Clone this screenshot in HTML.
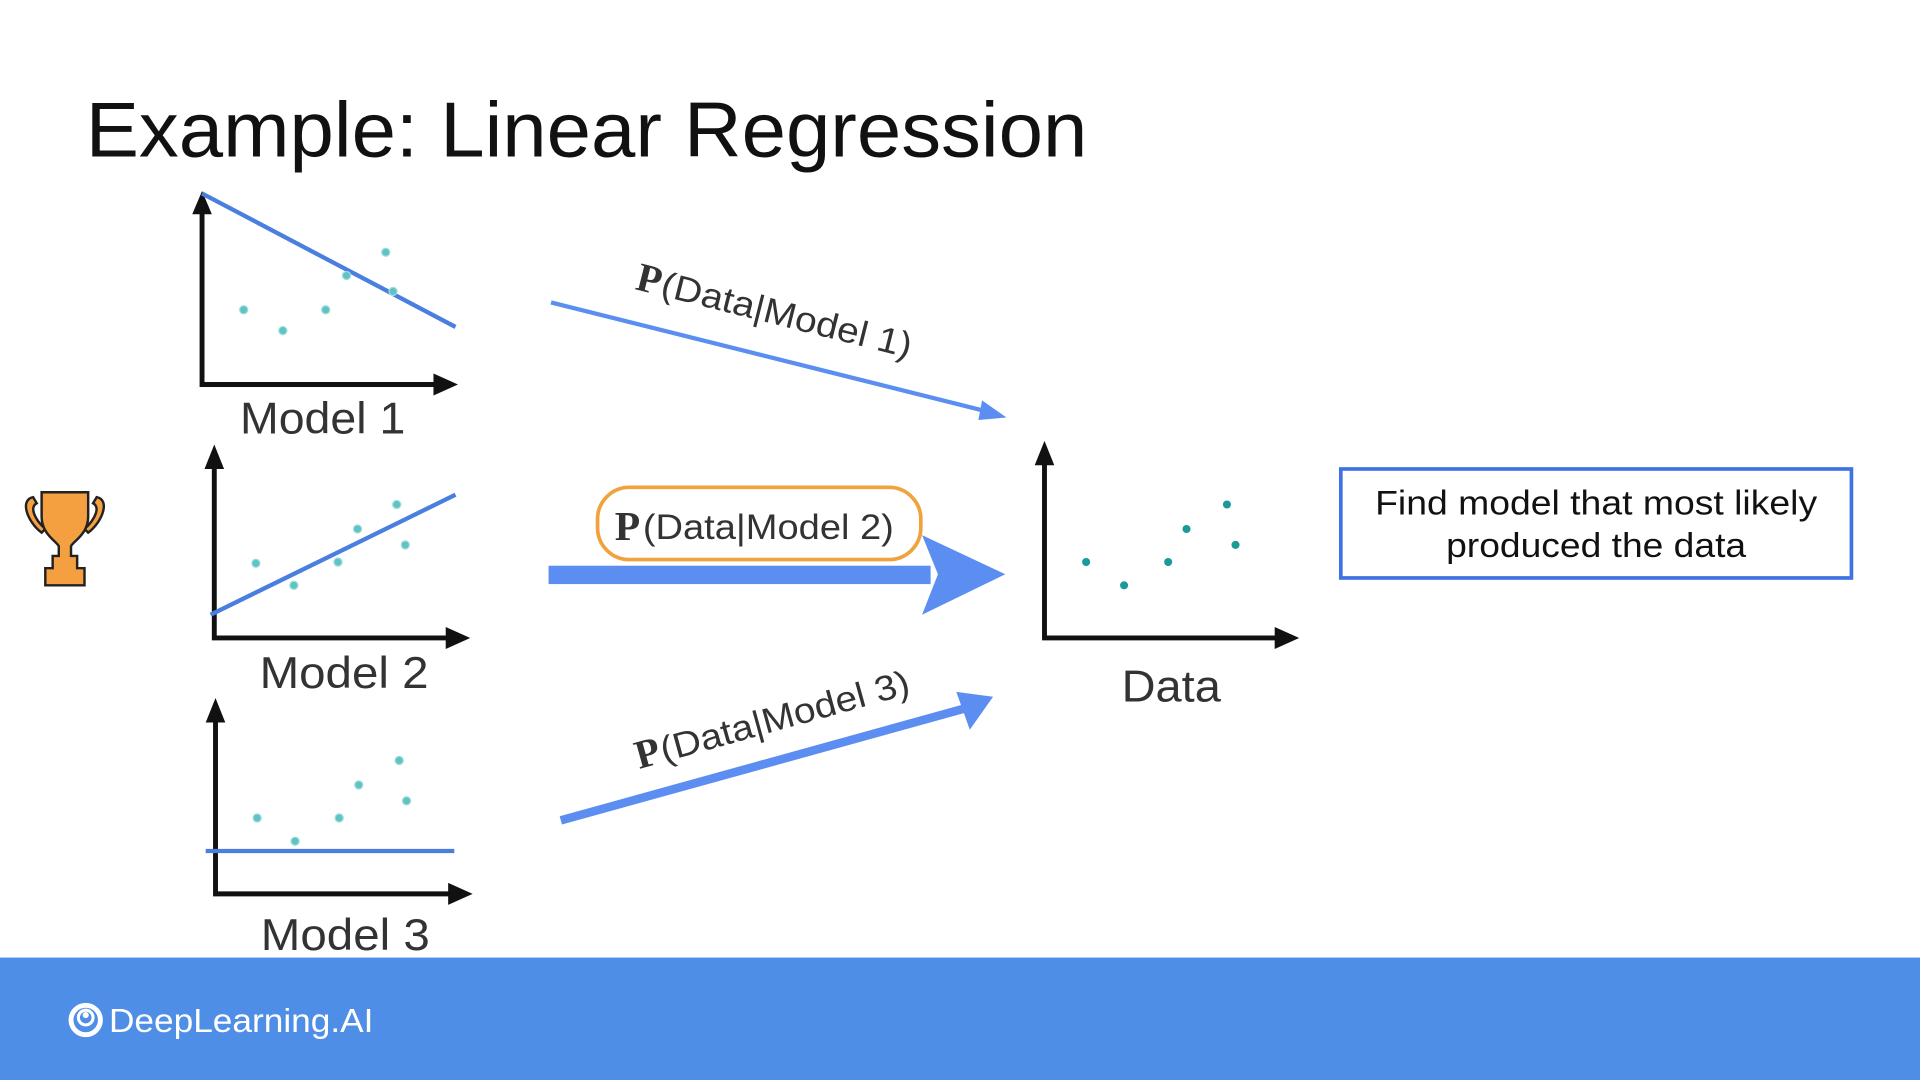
<!DOCTYPE html>
<html><head><style>html,body{margin:0;padding:0;background:#fff;width:1920px;height:1080px;overflow:hidden}</style></head>
<body>
<svg width="1920" height="1080" viewBox="0 0 1568 882" xmlns="http://www.w3.org/2000/svg" font-family="Liberation Sans, sans-serif">
<rect width="1568" height="882" fill="#fff"/>
<text x="70" y="128" font-size="64" fill="#111" textLength="818" lengthAdjust="spacingAndGlyphs">Example: Linear Regression</text>

<g stroke="#111" stroke-width="4" fill="none">
<path d="M165,172 V314 H358"/>
<path d="M175,380 V521 H368"/>
<path d="M176,587 V730 H370"/>
<path d="M853,377 V521 H1045"/>
</g>
<g fill="#111">
<path d="M157,175 L165,156 L173,175Z"/><path d="M354,305 L374,314 L354,323Z"/>
<path d="M167,383 L175,363 L183,383Z"/><path d="M364,512 L384,521 L364,530Z"/>
<path d="M168,590 L176,570 L184,590Z"/><path d="M366,721 L386,730 L366,739Z"/>
<path d="M845,380 L853,360 L861,380Z"/><path d="M1041,512 L1061,521 L1041,530Z"/>
</g>
<g stroke="#4a7fe0" stroke-width="3.5">
<line x1="165" y1="158" x2="372" y2="267"/>
<line x1="172" y1="502" x2="372" y2="404"/>
<line x1="168" y1="695" x2="371" y2="695"/>
</g>
<g fill="#5fc3c3" stroke="#9fdcdc" stroke-width="1">
<circle cx="199" cy="253" r="3.3"/><circle cx="231" cy="270" r="3.3"/><circle cx="266" cy="253" r="3.3"/><circle cx="283" cy="225" r="3.3"/><circle cx="315" cy="206" r="3.3"/><circle cx="321" cy="238" r="3.3"/>
<circle cx="209" cy="460" r="3.3"/><circle cx="240" cy="478" r="3.3"/><circle cx="276" cy="459" r="3.3"/><circle cx="292" cy="432" r="3.3"/><circle cx="324" cy="412" r="3.3"/><circle cx="331" cy="445" r="3.3"/>
<circle cx="210" cy="668" r="3.3"/><circle cx="241" cy="687" r="3.3"/><circle cx="277" cy="668" r="3.3"/><circle cx="293" cy="641" r="3.3"/><circle cx="326" cy="621" r="3.3"/><circle cx="332" cy="654" r="3.3"/>
</g>
<g fill="#1a9a9a">
<circle cx="887" cy="459" r="3.3"/><circle cx="918" cy="478" r="3.3"/><circle cx="954" cy="459" r="3.3"/><circle cx="969" cy="432" r="3.3"/><circle cx="1002" cy="412" r="3.3"/><circle cx="1009" cy="445" r="3.3"/>
</g>
<g font-size="36" fill="#333" lengthAdjust="spacingAndGlyphs">
<text x="196" y="354" textLength="135" lengthAdjust="spacingAndGlyphs">Model 1</text>
<text x="212" y="562" textLength="138" lengthAdjust="spacingAndGlyphs">Model 2</text>
<text x="213" y="776" textLength="138" lengthAdjust="spacingAndGlyphs">Model 3</text>
<text x="916" y="573" textLength="81" lengthAdjust="spacingAndGlyphs">Data</text>
</g>

<!-- trophy -->
<g transform="translate(20,402)" stroke="#222" stroke-width="2" fill="#f5a040">
<path d="M7,4 C-4,6 2,24 14,33 L17,30 C8,22 4,12 10,9Z"/>
<path d="M59,4 C70,6 64,24 52,33 L49,30 C58,22 62,12 56,9Z"/>
<path d="M14,0 H52 V20 C52,34 40,40 38,44 V52 H43 V62 H49 V76 H17 V62 H23 V52 H28 V44 C26,40 14,34 14,20Z"/>
</g>

<!-- arrow 1 -->
<line x1="450" y1="247" x2="810" y2="337" stroke="#5b8ef0" stroke-width="3.5"/>
<path d="M822,341 L802,327 L799,343Z" fill="#5b8ef0"/>
<g transform="translate(518,236) rotate(14.1)">
<text x="0" y="0" font-family="Liberation Serif, serif" font-weight="bold" font-size="33" fill="#333">P</text>
<text x="21" y="0" font-size="29" fill="#333" textLength="210" lengthAdjust="spacingAndGlyphs">(Data|Model 1)</text>
</g>

<!-- arrow 2 -->
<rect x="448" y="462" width="312" height="15" fill="#5b8ef0"/>
<path d="M753,437 L821,469 L753,502 L766,469Z" fill="#5b8ef0"/>
<rect x="488" y="398" width="264" height="59" rx="26" fill="#fff" stroke="#f0a23c" stroke-width="3"/>
<text x="502" y="441" font-family="Liberation Serif, serif" font-weight="bold" font-size="34" fill="#333">P</text>
<text x="525" y="440" font-size="29" fill="#333" textLength="205" lengthAdjust="spacingAndGlyphs">(Data|Model 2)</text>

<!-- arrow 3 -->
<line x1="458" y1="670" x2="790" y2="578" stroke="#5b8ef0" stroke-width="7"/>
<path d="M811,569 L781,565 L792,596Z" fill="#5b8ef0"/>
<g transform="translate(522,628) rotate(-15.5)">
<text x="0" y="0" font-family="Liberation Serif, serif" font-weight="bold" font-size="33" fill="#333">P</text>
<text x="21" y="0" font-size="29" fill="#333" textLength="210" lengthAdjust="spacingAndGlyphs">(Data|Model 3)</text>
</g>

<!-- box -->
<rect x="1095" y="383" width="417" height="89" fill="#fff" stroke="#3f72e2" stroke-width="3"/>
<g font-size="28" fill="#111">
<text x="1123" y="420" textLength="361" lengthAdjust="spacingAndGlyphs">Find model that most likely</text>
<text x="1181" y="455" textLength="245" lengthAdjust="spacingAndGlyphs">produced the data</text>
</g>

<!-- footer -->
<rect x="0" y="782" width="1568" height="100" fill="#4f8ee6"/>
<g fill="none" stroke="#fff">
<circle cx="70" cy="833" r="12" stroke-width="4"/>
<circle cx="70" cy="831" r="6" stroke-width="2.5"/>
</g>
<circle cx="70" cy="829" r="2.5" fill="#fff"/>
<text x="89" y="843" font-size="27" fill="#fff" textLength="216" lengthAdjust="spacingAndGlyphs">DeepLearning.AI</text>
</svg>
</body></html>
